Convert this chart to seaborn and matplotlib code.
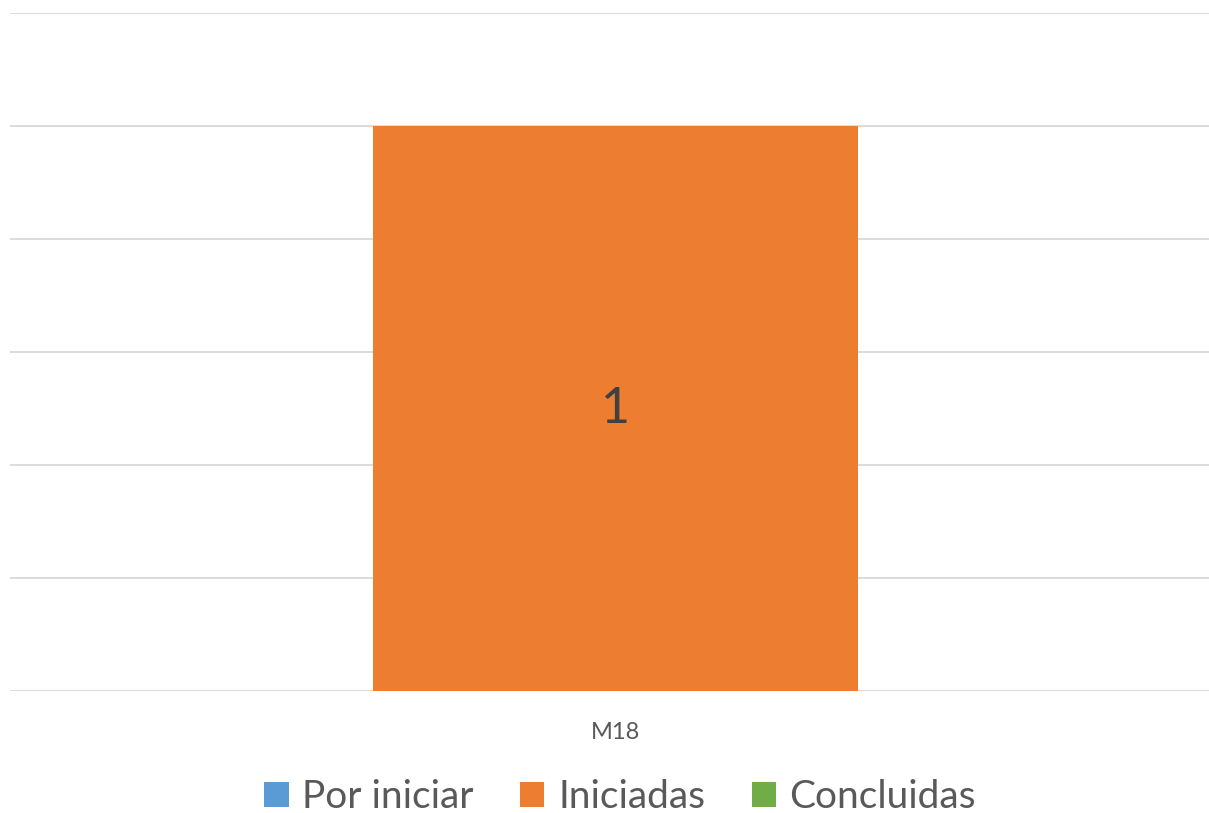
import matplotlib
matplotlib.use("Agg")
import matplotlib.pyplot as plt
from matplotlib.patches import Patch
import pandas as pd
import seaborn as sns

# Data
categories = ["M18"]
por_iniciar = [0]
iniciadas = [1]
concluidas = [0]

series_names = ["Por iniciar", "Iniciadas", "Concluidas"]
colors = ["#5B9BD5", "#ED7D31", "#70AD47"]

df = pd.DataFrame({
    "categoria": categories,
    "Por iniciar": por_iniciar,
    "Iniciadas": iniciadas,
    "Concluidas": concluidas,
})

# cumulative totals for stacking (draw the biggest first)
df["c1"] = df["Por iniciar"]
df["c2"] = df["c1"] + df["Iniciadas"]
df["c3"] = df["c2"] + df["Concluidas"]

sns.set_theme(style="white")
plt.rcParams["font.family"] = ["Lato", "DejaVu Sans"]

fig = plt.figure(figsize=(12.09, 8.13), dpi=100)
ax = fig.add_axes([10 / 1209, 1 - 691 / 813, 1211 / 1209, (691 - 13) / 813])

for col, color in zip(["c3", "c2", "c1"], colors[::-1]):
    sns.barplot(data=df, x="categoria", y=col, color=color, width=0.4,
                saturation=1, linewidth=0, ax=ax, zorder=2)

ax.set_ylim(0, 1.2)
ax.set_xlim(-0.5, 0.5)
ax.set_yticks([0, 0.2, 0.4, 0.6, 0.8, 1.0, 1.2])
ax.yaxis.grid(True, color="#D9D9D9", linewidth=1.3)
ax.set_axisbelow(True)
ax.set_yticklabels([])
ax.tick_params(axis="y", length=0)
ax.tick_params(axis="x", length=0, labelsize=17, labelcolor="#595959", pad=22)
ax.set_xlabel("")
ax.set_ylabel("")
for s in ax.spines.values():
    s.set_visible(False)

# value label for the non-zero segment
for i, row in df.iterrows():
    if row["Iniciadas"] > 0:
        ax.text(i, row["c1"] + row["Iniciadas"] / 2, str(row["Iniciadas"]),
                ha="center", va="center", fontsize=36, color="#404040")

handles = [Patch(facecolor=c, edgecolor="none") for c in colors]
fig.legend(handles, series_names, loc="center", bbox_to_anchor=(0.513, 1 - 797 / 813),
           ncol=3, frameon=False, fontsize=28, labelcolor="#595959",
           handlelength=0.62, handleheight=0.62, handletextpad=0.35,
           columnspacing=1.2)

fig.savefig("out.png", dpi=100)
